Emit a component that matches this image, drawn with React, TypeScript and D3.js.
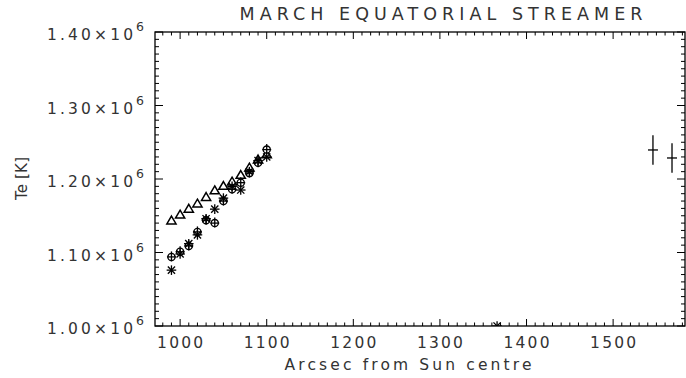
import React from 'react';
import * as d3 from 'd3';

const W = 686;
const H = 378;

// Data
const xPositions = [990, 1000, 1010, 1020, 1030, 1040, 1050, 1060, 1070, 1080, 1090, 1100];
const triangleTe = [1.143e6, 1.151e6, 1.159e6, 1.166e6, 1.175e6, 1.184e6, 1.19e6, 1.196e6, 1.205e6, 1.215e6, 1.226e6, 1.233e6];
const circleTe = [1.094e6, 1.101e6, 1.109e6, 1.128e6, 1.144e6, 1.14e6, 1.17e6, 1.186e6, 1.195e6, 1.208e6, 1.222e6, 1.24e6];
const asteriskTe = [1.076e6, 1.098e6, 1.112e6, 1.124e6, 1.146e6, 1.159e6, 1.174e6, 1.19e6, 1.185e6, 1.21e6, 1.225e6, 1.23e6];
const errX = [1546, 1568];
const errTe = [1.2395e6, 1.2286e6];
const errSize = [0.02e6, 0.02e6];
const strayX = [1366];
const strayTe = [1.0e6];
const xTicks = [1000, 1100, 1200, 1300, 1400, 1500];
const yTicks = [1.0e6, 1.1e6, 1.2e6, 1.3e6, 1.4e6];
const yTickLabels = ['1.00', '1.10', '1.20', '1.30', '1.40'];

const L = 155, R = 685, T = 32, B = 326;
const FONT = '"DejaVu Sans", sans-serif';

export default function App() {
  const x = d3.scaleLinear().domain([971, 1583]).range([L, R]);
  const y = d3.scaleLinear().domain([1.0e6, 1.4e6]).range([B, T]);

  const xMinor = d3.range(980, 1584, 10);
  const yMinor = d3.range(1.0e6, 1.4e6 + 1, 0.01e6);

  const sw = 1.3;

  const tri = (cx: number, cy: number, i: number) => (
    <path key={'t' + i} d={`M${cx},${cy - 4.8}L${cx + 4.6},${cy + 3}L${cx - 4.6},${cy + 3}Z`} fill="white" stroke="black" strokeWidth={1.5} />
  );
  const circ = (cx: number, cy: number, i: number) => (
    <g key={'c' + i} stroke="black" strokeWidth={1.3} fill="white">
      <circle cx={cx} cy={cy} r={3.6} />
      <line x1={cx} y1={cy - 5.5} x2={cx} y2={cy + 4.5} />
      <line x1={cx - 4.5} y1={cy} x2={cx + 4.5} y2={cy} />
    </g>
  );
  const ast = (cx: number, cy: number, key: string) => (
    <g key={key} stroke="black" strokeWidth={1.3}>
      <line x1={cx} y1={cy - 4.8} x2={cx} y2={cy + 4.8} />
      <line x1={cx - 4.8} y1={cy} x2={cx + 4.8} y2={cy} />
      <line x1={cx - 3.6} y1={cy - 3.6} x2={cx + 3.6} y2={cy + 3.6} />
      <line x1={cx - 3.6} y1={cy + 3.6} x2={cx + 3.6} y2={cy - 3.6} />
    </g>
  );

  return (
    <svg width={W} height={H} style={{ position: 'absolute', left: 0, top: 0, background: 'white' }} fontFamily={FONT}>
      <rect x={0} y={0} width={W} height={H} fill="white" />
      <defs>
        <clipPath id="plotclip">
          <rect x={L} y={T} width={R - L} height={B - T} />
        </clipPath>
      </defs>
      {/* Title */}
      <text x={441} y={20} fontSize={17.5} textAnchor="middle" textLength={403} lengthAdjust="spacing" fill="#333">MARCH EQUATORIAL STREAMER</text>

      {/* Axes frame */}
      <rect x={L} y={T} width={R - L} height={B - T} fill="none" stroke="black" strokeWidth={1.3} />

      {/* X ticks, bottom and top */}
      {xMinor.map((v) => {
        const major = v % 100 === 0;
        const len = major ? 7 : 3.5;
        const px = x(v);
        return (
          <g key={'xm' + v} stroke="black" strokeWidth={1}>
            <line x1={px} y1={B} x2={px} y2={B - len} />
            <line x1={px} y1={T} x2={px} y2={T + len} />
          </g>
        );
      })}
      {/* Y ticks, left and right */}
      {yMinor.map((v, i) => {
        const major = i % 10 === 0;
        const len = major ? 8 : 4;
        const py = y(v);
        return (
          <g key={'ym' + i} stroke="black" strokeWidth={1}>
            <line x1={L} y1={py} x2={L + len} y2={py} />
            <line x1={R} y1={py} x2={R - len} y2={py} />
          </g>
        );
      })}

      {/* X tick labels */}
      {xTicks.map((v) => (
        <text key={'xl' + v} x={x(v)} y={348} fontSize={15.5} textAnchor="middle" textLength={46} lengthAdjust="spacing" fill="#333">{v}</text>
      ))}
      {/* Y tick labels */}
      {yTicks.map((v, i) => (
        <g key={'yl' + i} fill="#333">
          <text x={47} y={y(v) + 8} fontSize={15.5} textLength={86} lengthAdjust="spacing">{yTickLabels[i] + '×10'}</text>
          <text x={136} y={y(v) - 1} fontSize={12.5}>6</text>
        </g>
      ))}

      {/* Axis titles */}
      <text x={408} y={370} fontSize={15.5} textAnchor="middle" textLength={247} lengthAdjust="spacing" fill="#333">Arcsec from Sun centre</text>
      <text transform="translate(27,178.5) rotate(-90)" fontSize={15} textAnchor="middle" textLength={43} lengthAdjust="spacing" fill="#333">Te [K]</text>

      <g clipPath="url(#plotclip)">
        {xPositions.map((v, i) => tri(x(v), y(triangleTe[i]), i))}
        {xPositions.map((v, i) => circ(x(v), y(circleTe[i]), i))}
        {xPositions.map((v, i) => ast(x(v), y(asteriskTe[i]), 'a' + i))}
        {strayX.map((v, i) => ast(x(v), y(strayTe[i]), 's' + i))}
        {errX.map((v, i) => (
          <g key={'e' + i} stroke="black" strokeWidth={sw}>
            <line x1={x(v)} y1={y(errTe[i] - errSize[i])} x2={x(v)} y2={y(errTe[i] + errSize[i])} />
            <line x1={x(v) - 5} y1={y(errTe[i])} x2={x(v) + 5} y2={y(errTe[i])} />
          </g>
        ))}
      </g>
    </svg>
  );
}
